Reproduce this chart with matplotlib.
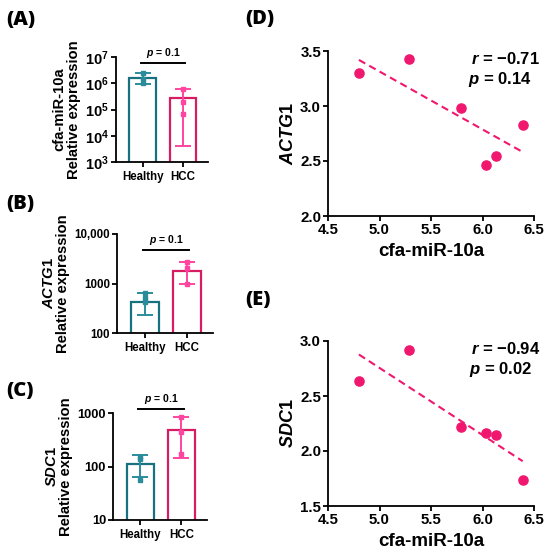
import numpy as np
import matplotlib
matplotlib.use("Agg")
import matplotlib.pyplot as plt
from matplotlib.ticker import FixedLocator, NullLocator, MultipleLocator, FormatStrFormatter

plt.rcParams["font.family"] = ["Liberation Sans", "DejaVu Sans"]
plt.rcParams["font.weight"] = "bold"
plt.rcParams["mathtext.fontset"] = "custom"
plt.rcParams["mathtext.rm"] = "Liberation Sans:bold"
plt.rcParams["mathtext.bf"] = "Liberation Sans:bold"
plt.rcParams["mathtext.it"] = "Liberation Sans:italic:bold"

# ---- data ----
groups = ["Healthy", "HCC"]

# (A) cfa-miR-10a
mir_bar = [1.6e6, 2.8e5]
mir_err_lo = [0.97e6, 4.0e3]
mir_err_hi = [2.4e6, 6.3e5]
mir_pts_healthy = [2.4e6, 1.4e6, 1.0e6]
mir_pts_hcc = [6.3e5, 1.9e5, 6.6e4]

# (B) ACTG1
actg_bar = [424, 1810]
actg_err_lo = [227, 1000]
actg_err_hi = [656, 2760]
actg_pts_healthy = [656, 520, 430]
actg_pts_hcc = [2760, 2080, 955]

# (C) SDC1
sdc_bar = [111, 473]
sdc_err_lo = [63, 147]
sdc_err_hi = [165, 830]
sdc_pts_healthy = [150, 141, 56]
sdc_pts_hcc = [830, 440, 173]

# (D)/(E) correlation with cfa-miR-10a
mir_x = [4.80, 5.29, 5.79, 6.03, 6.13, 6.39]
actg_y = [3.30, 3.43, 2.98, 2.46, 2.55, 2.83]
sdc_y = [2.64, 2.92, 2.22, 2.16, 2.15, 1.74]

TEAL = "#17717f"
TEAL_L = "#2a8c9b"
PINK = "#d81c63"
PINK_L = "#ff45a0"
DOT = "#f0176f"

W, H = 550, 556
fig = plt.figure(figsize=(5.5, 5.56), dpi=100)


def box(l, t, r, b):
    return [l / W, 1 - b / H, (r - l) / W, (b - t) / H]


def style_axes(ax, lw=1.3):
    for s in ["top", "right"]:
        ax.spines[s].set_visible(False)
    for s in ["left", "bottom"]:
        ax.spines[s].set_linewidth(lw)
    ax.tick_params(direction="out", width=lw, length=3.5)


def bar_panel(ax, bars, lo, hi, pts_h, pts_c, ylim, ticks, labels, ylabel, sig_y, tick_fs):
    x = np.arange(len(groups))
    edges = [TEAL, PINK]
    light = [TEAL_L, PINK_L]
    ax.bar(x, bars, width=0.66, color="white", edgecolor=edges, linewidth=1.6, zorder=2)
    for i in range(2):
        ax.errorbar(x[i], bars[i], yerr=[[bars[i] - lo[i]], [hi[i] - bars[i]]],
                    fmt="none", ecolor=light[i], elinewidth=1.4, capsize=6, capthick=1.4, zorder=3)
    for i, pts in enumerate([pts_h, pts_c]):
        ax.plot([x[i]] * len(pts), pts, "s", ms=2.8, color=light[i], zorder=4)
    ax.set_yscale("log")
    ax.set_ylim(*ylim)
    ax.set_xlim(-0.66, 1.62)
    ax.yaxis.set_major_locator(FixedLocator(ticks))
    ax.yaxis.set_minor_locator(NullLocator())
    ax.set_yticklabels(labels, fontsize=tick_fs, fontweight="bold")
    ax.set_xticks(x)
    ax.set_xticklabels(groups, fontsize=8.3, fontweight="bold")
    ax.tick_params(axis="x", length=0, pad=3)
    ax.tick_params(axis="y", pad=1.5)
    ax.set_ylabel(ylabel, fontsize=10.6, fontweight="bold", linespacing=1.05, labelpad=3)
    style_axes(ax)
    ax.plot([-0.05, 1.05], [sig_y, sig_y], color="black", lw=1.4, clip_on=False)
    ax.annotate(r"$\mathit{p}$ = 0.1", xy=(0.5, sig_y), xytext=(0, 2), textcoords="offset points",
                ha="center", va="bottom", fontsize=7.5, fontweight="bold", annotation_clip=False)


axA = fig.add_axes(box(116, 57, 208, 162))
bar_panel(axA, mir_bar, mir_err_lo, mir_err_hi, mir_pts_healthy, mir_pts_hcc,
          (1e3, 1e7), [1e3, 1e4, 1e5, 1e6, 1e7],
          [r"$10^{%d}$" % k for k in range(3, 8)],
          "cfa-miR-10a\nRelative expression", 6.0e6, 10.5)

axB = fig.add_axes(box(117, 234, 213, 333))
bar_panel(axB, actg_bar, actg_err_lo, actg_err_hi, actg_pts_healthy, actg_pts_hcc,
          (100, 10000), [100, 1000, 10000], ["100", "1000", "10,000"],
          r"$\mathit{ACTG1}$" + "\nRelative expression", 4780, 8.3)

axC = fig.add_axes(box(113, 413, 207, 520))
bar_panel(axC, sdc_bar, sdc_err_lo, sdc_err_hi, sdc_pts_healthy, sdc_pts_hcc,
          (10, 1000), [10, 100, 1000], ["10", "100", "1000"],
          r"$\mathit{SDC1}$" + "\nRelative expression", 1180, 9.3)


def scatter_panel(ax, xs, ys, ylim, ylabel, r_txt, p_txt):
    ax.plot(xs, ys, "o", ms=6.6, color=DOT, zorder=3, clip_on=False)
    k, b = np.polyfit(xs, ys, 1)
    fx = np.array([min(xs), max(xs)])
    ax.plot(fx, k * fx + b, "--", color=DOT, lw=1.5, dashes=(3.5, 2.2), zorder=2)
    ax.set_xlim(4.5, 6.5)
    ax.set_ylim(*ylim)
    ax.xaxis.set_major_locator(MultipleLocator(0.5))
    ax.yaxis.set_major_locator(MultipleLocator(0.5))
    ax.xaxis.set_major_formatter(FormatStrFormatter("%.1f"))
    ax.yaxis.set_major_formatter(FormatStrFormatter("%.1f"))
    style_axes(ax)
    ax.tick_params(labelsize=10.8, pad=1.5)
    for t in ax.get_xticklabels() + ax.get_yticklabels():
        t.set_fontweight("bold")
    ax.set_xlabel("cfa-miR-10a", fontsize=13.5, fontweight="bold", labelpad=4)
    ax.set_ylabel(ylabel, fontsize=13, labelpad=2)
    ax.text(1.03, 0.95, r_txt, transform=ax.transAxes, ha="right", va="center", fontsize=12, fontweight="bold")
    ax.text(0.99, 0.83, p_txt, transform=ax.transAxes, ha="right", va="center", fontsize=12, fontweight="bold")


axD = fig.add_axes(box(328, 51, 534, 216))
scatter_panel(axD, mir_x, actg_y, (2.0, 3.5), r"$\mathit{ACTG1}$",
              r"$\mathit{r}$ = −0.71", r"$\mathit{p}$ = 0.14")

axE = fig.add_axes(box(328, 341, 534, 506))
scatter_panel(axE, mir_x, sdc_y, (1.5, 3.0), r"$\mathit{SDC1}$",
              r"$\mathit{r}$ = −0.94", r"$\mathit{p}$ = 0.02")

for lab, (px, py) in {"(A)": (6, 20), "(B)": (6, 204), "(C)": (6, 391),
                      "(D)": (245, 19), "(E)": (245, 300)}.items():
    fig.text(px / W, 1 - py / H, lab, fontsize=14.5, fontweight="heavy", family="Open Sans",
             ha="left", va="center")

fig.savefig("out.png", dpi=100)
